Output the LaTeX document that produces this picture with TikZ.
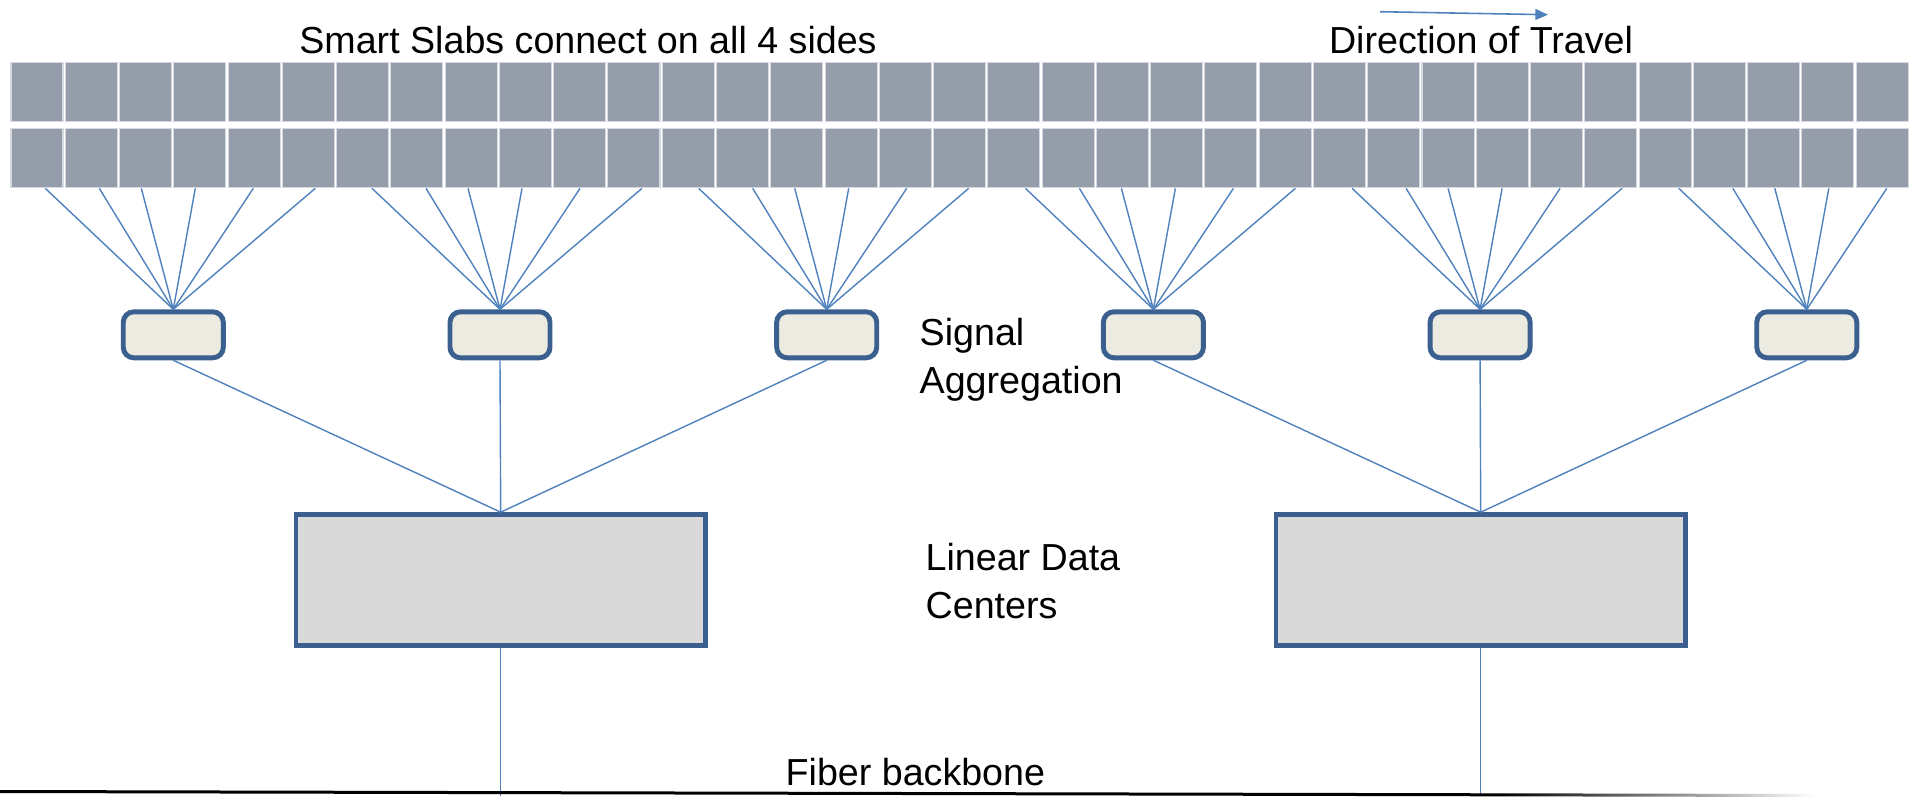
\documentclass[tikz,border=0pt]{standalone}
\usepackage{fontspec}
\setmainfont{Liberation Sans}
\usetikzlibrary{arrows.meta,calc}

\definecolor{slabgray}{RGB}{149,156,170}
\definecolor{slabline}{RGB}{214,218,224}
\definecolor{aggbeige}{RGB}{236,235,225}
\definecolor{dcgray}{RGB}{217,217,217}
\definecolor{boxblue}{RGB}{59,95,143}
\definecolor{linkblue}{RGB}{79,129,189}

\begin{document}
\begin{tikzpicture}[
    x=0.01cm, y=-0.01cm,
    slab/.style={draw=slabline, line width=0.3pt, fill=slabgray, inner sep=0pt,
        minimum width=0.52cm, minimum height=0.59cm},
    aggbox/.style={draw=boxblue, line width=1.4pt, fill=aggbeige, inner sep=0pt,
        rounded corners=3pt, minimum width=1.0cm, minimum height=0.46cm},
    dcbox/.style={draw=boxblue, line width=1.3pt, fill=dcgray, inner sep=0pt,
        minimum width=4.09cm, minimum height=1.31cm},
    link/.style={draw=linkblue, line width=0.4pt},
    note/.style={font=\fontsize{10.7}{13.5}\selectfont, inner sep=0pt}
]
\useasboundingbox (0,0) rectangle (1929,796);

% two rows of slabs
\foreach \i in {0,...,34} {
    \node[slab] (top-\i) at (37+54.27*\i, 92.3) {};
    \node[slab] (bot-\i) at (37+54.27*\i, 158.3) {};
}

% aggregation boxes, each fed by six slabs
\foreach \k in {0,...,5} {
    \node[aggbox] (agg-\k) at (173.3+326.7*\k, 334.8) {};
    \foreach \j/\dx in {0/-128,1/-74,2/-32,3/22,4/80,5/142} {
        \pgfmathtruncatemacro\n{6*\k+\j}
        \ifnum\n<35
            \draw[link] (agg-\k.north) -- ($(agg-\k.north |- bot-\n.south)+(\dx,0)$);
        \fi
    }
}

\node[dcbox] (dc-0) at (500.7, 580) {};
\node[dcbox] (dc-1) at (1480.7, 580) {};

\foreach \k in {0,1,2} \draw[link] (agg-\k.south) -- (dc-0.north);
\foreach \k in {3,4,5} \draw[link] (agg-\k.south) -- (dc-1.north);

\coordinate (bb) at (0,796);
\foreach \d in {0,1} \draw[link] (dc-\d.south) -- (dc-\d.south |- bb);

% fiber backbone
\fill[black] (0,790) -- (1500,793.3) -- (1500,796.3) -- (0,793) -- cycle;
\shade[left color=black, right color=white] (1500,793.3) -- (1815,794) -- (1815,797) -- (1500,796.3) -- cycle;

\node[note, anchor=base] (slab-title) at (588,53) {Smart Slabs connect on all 4 sides};
\node[note, anchor=base] (travel) at (1481,53) {Direction of Travel};
\node[note, anchor=north west, align=left] (agg-text) at (919,318) {Signal\\Aggregation};
\node[note, anchor=north west, align=left] (dc-text) at (925,543) {Linear Data\\Centers};
\node[note, anchor=base west] (fiber) at (785,785) {Fiber backbone};

\coordinate (dir-from) at (1380,11.7);
\coordinate (dir-to) at (1548,14.7);
\draw[link, line width=0.45pt, -{Triangle[length=3.6pt,width=3.1pt]}] (dir-from) -- (dir-to);
\end{tikzpicture}
\end{document}
